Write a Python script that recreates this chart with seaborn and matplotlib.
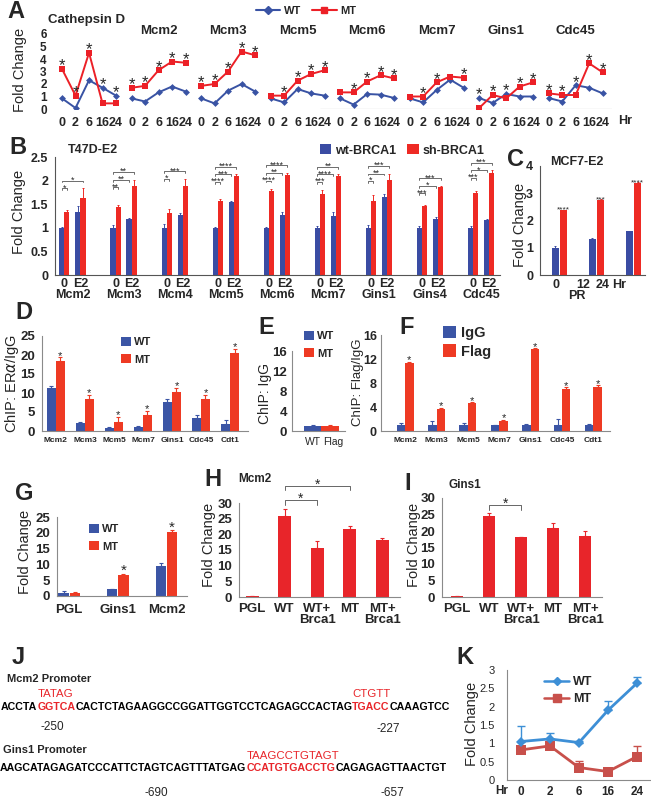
import numpy as np
import pandas as pd
import matplotlib
matplotlib.use('Agg')
import matplotlib.pyplot as plt
import matplotlib.transforms as mtransforms
from matplotlib.colors import to_rgba
from matplotlib.lines import Line2D
from matplotlib.patches import Patch
import seaborn as sns

# ---------------- data ----------------
# A: time course, fold change, WT vs MT
hours = ['0', '2', '6', '16', '24']
a_genes = ['Cathepsin D', 'Mcm2', 'Mcm3', 'Mcm5', 'Mcm6', 'Mcm7', 'Gins1', 'Cdc45']
a_wt = [[0.85, 0.08, 2.3, 1.7, 1.07], [0.85, 0.6, 1.33, 1.8, 1.4], [0.85, 0.45, 1.47, 2.0, 1.4],
        [0.85, 0.53, 1.6, 1.25, 1.07], [0.85, 0.35, 1.2, 1.15, 0.88], [0.85, 0.53, 1.52, 2.35, 1.7],
        [0.88, 0.48, 1.2, 1.0, 1.0], [0.88, 0.6, 1.9, 1.7, 1.25]]
a_mt = [[3.2, 1.07, 4.5, 0.45, 0.45], [1.7, 1.85, 3.1, 3.8, 3.7], [1.85, 2.0, 3.0, 4.6, 4.3],
        [1.07, 1.07, 2.27, 2.8, 3.1], [1.33, 1.33, 2.2, 2.7, 2.45], [1.0, 1.0, 2.13, 2.6, 2.5],
        [0.08, 1.12, 0.85, 1.8, 2.13], [1.25, 1.12, 1.12, 3.65, 2.93]]
a_star = [[1, 1, 1, 1, 1], [1, 1, 1, 1, 1], [1, 1, 1, 1, 1], [0, 1, 1, 1, 1],
          [0, 1, 1, 1, 1], [0, 1, 1, 0, 1], [1, 1, 1, 1, 1], [1, 1, 1, 1, 1]]

# B: T47D-E2
b_genes = ['Mcm2', 'Mcm3', 'Mcm4', 'Mcm5', 'Mcm6', 'Mcm7', 'Gins1', 'Gins4', 'Cdc45']
b_conds = ['0', 'E2']
b_wt = [[1.0, 1.34], [1.0, 1.18], [1.0, 1.28], [1.0, 1.54], [1.0, 1.27], [1.0, 1.26], [1.0, 1.66], [1.0, 1.18], [1.0, 1.17]]
b_sh = [[1.33, 1.64], [1.45, 1.88], [1.32, 1.89], [1.57, 2.1], [1.79, 2.12], [1.71, 2.09], [1.57, 2.02], [1.47, 1.86], [1.74, 2.16]]
b_wt_err = [[0.02, 0.13], [0.05, 0.02], [0.08, 0.03], [0.02, 0.03], [0.02, 0.06], [0.03, 0.08], [0.05, 0.05], [0.03, 0.04], [0.04, 0.01]]
b_sh_err = [[0.04, 0.2], [0.03, 0.14], [0.08, 0.15], [0.03, 0.03], [0.04, 0.04], [0.1, 0.04], [0.12, 0.13], [0.02, 0.03], [0.03, 0.06]]
b_sig = [('*', None, '*'), ('**', '**', '**'), ('*', None, '***'), ('****', '***', '****'), ('****', '**', '****'),
         ('***', '****', '**'), ('*', '**', '***'), ('***', '*', '***'), ('***', '*', '***')]

# C: MCF7-E2
c_hours = ['0', '12', '24']
c_wt = [1.0, 1.33, 1.6]
c_sh = [2.38, 2.75, 3.38]
c_wt_err = [0.06, 0.02, 0.02]
c_sh_err = [0.02, 0.03, 0.02]
c_sig = ['****', '***', '****']

# D, F: ChIP
chip_genes = ['Mcm2', 'Mcm3', 'Mcm5', 'Mcm7', 'Gins1', 'Cdc45', 'Cdt1']
d_wt = [11.4, 2.1, 0.9, 1.0, 7.7, 3.5, 1.8]
d_mt = [18.3, 8.4, 2.5, 4.1, 10.3, 8.4, 20.6]
d_wt_err = [0.5, 0.4, 0.1, 0.2, 0.8, 0.6, 1.0]
d_mt_err = [1.1, 1.2, 1.2, 1.2, 1.0, 1.2, 1.0]
e_cats = ['WT', 'Flag']
e_vals = [0.95, 1.1]
e_err = [0.3, 0.1]
f_igg = [1.0, 1.0, 1.0, 1.0, 1.0, 1.0, 1.0]
f_flag = [11.3, 3.75, 4.7, 1.75, 13.6, 7.0, 7.3]
f_igg_err = [0.3, 0.7, 0.4, 0.05, 0.1, 1.0, 0.1]
f_flag_err = [0.2, 0.1, 0.1, 0.1, 0.2, 0.3, 0.3]

# G, H, I: reporter assays
g_cats = ['PGL', 'Gins1', 'Mcm2']
g_wt = [1.0, 2.1, 9.6]
g_mt = [1.0, 6.8, 20.1]
g_wt_err = [0.5, 0.2, 0.7]
g_mt_err = [0.4, 0.3, 0.8]
g_star = [0, 1, 1]
hi_cats = ['PGL', 'WT', 'WT+\nBrca1', 'MT', 'MT+\nBrca1']
h_vals = [0.3, 26.0, 15.6, 21.75, 18.05]
h_err = [0.1, 2.1, 2.4, 0.85, 0.75]
i_vals = [0.3, 24.4, 18.05, 20.9, 18.5]
i_err = [0.1, 1.1, 0.2, 1.4, 1.5]

# J: promoter sequences
mcm2_seq = ['ACCTA', 'GGTCA', 'CACTCTAGAAGGCCGGATTGGTCCTCAGAGCCACTAG', 'TGACC', 'CAAAGTCC']
mcm2_site = ['TATAG', 'CTGTT']
gins1_seq = ['AAGCATAGAGATCCCATTCTAGTCAGTTTATGAG', 'CCATGTGACCTG', 'CAGAGAGTTAACTGT']
gins1_site = ['TAAGCCTGTAGT']

# K
k_hours = ['0', '2', '6', '16', '24']
k_wt = [1.05, 1.12, 1.02, 1.9, 2.64]
k_mt = [0.82, 0.93, 0.34, 0.23, 0.64]
k_wt_err = [0.43, 0.17, 0.04, 0.25, 0.16]
k_mt_err = [0.0, 0.0, 0.19, 0.0, 0.28]

# ---------------- figure helpers ----------------
W, H = 651, 798
sns.set_style('white')
plt.rcParams['font.family'] = ['Liberation Sans', 'DejaVu Sans']
fig = plt.figure(figsize=(W / 100, H / 100), dpi=100)
rend = fig.canvas.get_renderer()

blue_a, red_a = '#3953a4', '#ec2027'
blue_b, red_b = '#3a4ca3', '#ee2a24'
blue_d, red_d = '#3b55a5', '#ee3a23'
red_h = '#e8252a'
blue_k, red_k = '#3d8fd6', '#c8504b'
axis_gray = '#8a8a8a'


def px_ax(left, top, right, bottom):
    return fig.add_axes([left / W, 1 - bottom / H, (right - left) / W, (bottom - top) / H])


def ftext(x, y, s, **kw):
    kw.setdefault('ha', 'center')
    kw.setdefault('va', 'center')
    return fig.text(x / W, 1 - y / H, s, **kw)


def letter(x, y, s):
    ftext(x, y, s, fontsize=17, fontweight='bold')


def ylab(x, y, s, size=10.5):
    ftext(x, y, s, rotation=90, fontsize=size)


def base_style(ax, ylim, yticks, ysize=9, yweight='bold', ypad=3, color=axis_gray):
    ax.set_ylim(*ylim)
    ax.set_yticks(yticks)
    ax.set_yticklabels([f'{t:g}' for t in yticks], fontsize=ysize, fontweight=yweight)
    ax.set_xlabel('')
    ax.set_ylabel('')
    sns.despine(ax=ax)
    for sp in ('left', 'bottom'):
        ax.spines[sp].set_color(color)
        ax.spines[sp].set_linewidth(0.8)
    ax.tick_params(axis='y', length=2, width=0.7, color=color, pad=ypad)
    ax.tick_params(axis='x', length=0)


def err_bars(ax, errs, color, lw=0.8, cap=1.5):
    target = to_rgba(color)
    bars = [p for p in ax.patches if np.allclose(p.get_facecolor(), target, atol=0.02)]
    bars.sort(key=lambda p: p.get_x())
    xs = [p.get_x() + p.get_width() / 2 for p in bars]
    ys = [p.get_height() for p in bars]
    ax.errorbar(xs, ys, yerr=[np.zeros(len(xs)), errs], fmt='none', ecolor=color,
                elinewidth=lw, capsize=cap, capthick=lw, clip_on=False)
    return xs, ys


def star(ax, x, y, s='*', fs=8, dy=-1):
    ax.annotate(s, (x, y), xytext=(0, dy), textcoords='offset points', ha='center',
                va='baseline', fontsize=fs, annotation_clip=False)


def bracket(ax, x1, x2, y, label, drop, fs=6, lw=0.6, color='#555555', dy=-1.5):
    ax.plot([x1, x1, x2, x2], [y - drop, y, y, y - drop], color=color, lw=lw, clip_on=False)
    star(ax, (x1 + x2) / 2, y, label, fs=fs, dy=dy)


def square_legend(ax, labels, colors, x, y, fs=8, ncol=1, **kw):
    handles = [Patch(facecolor=c, edgecolor='none') for c in colors]
    ax.legend(handles, labels, loc='upper left', bbox_to_anchor=(x / W, 1 - y / H),
              bbox_transform=fig.transFigure, frameon=False, ncol=ncol,
              prop={'size': fs, 'weight': 'bold'}, handlelength=0.9, handleheight=0.9,
              handletextpad=0.3, borderpad=0, borderaxespad=0, **kw)


# ---------------- A ----------------
axA = px_ax(55, 34, 612, 109)
rows = []
for gi, g in enumerate(a_genes):
    for i, h in enumerate(hours):
        for s, vals in (('WT', a_wt), ('MT', a_mt)):
            rows.append(dict(gene=g, x=gi * 5.15 + i, hr=h, series=s, value=vals[gi][i]))
dfa = pd.DataFrame(rows)
for s, col, mk, ms in (('WT', blue_a, 'D', 3.5), ('MT', red_a, 's', 4.5)):
    sns.lineplot(data=dfa[dfa.series == s], x='x', y='value', units='gene', estimator=None,
                 color=col, marker=mk, markersize=ms, markeredgewidth=0, lw=1.4, ax=axA, legend=False)
axA.set_xlim(-0.52, 40.74)
axA.set_ylim(0, 6)
axA.set_xlabel('')
axA.set_ylabel('')
for sp in axA.spines.values():
    sp.set_visible(False)
axA.axhline(0, xmin=0.476, xmax=1, color=axis_gray, lw=0.8)
xa = dfa[dfa.series == 'WT'].x.values
axA.set_xticks(xa)
axA.set_xticklabels(hours * len(a_genes), fontsize=9, fontweight='bold')
axA.set_yticks(range(7))
axA.set_yticklabels([str(v) for v in range(7)], fontsize=8.5, fontweight='bold')
axA.tick_params(length=0)
axA.tick_params(axis='x', pad=6)
axA.tick_params(axis='y', pad=6)
for gi, g in enumerate(a_genes):
    for i in range(5):
        if a_star[gi][i]:
            star(axA, gi * 5.15 + i, max(a_wt[gi][i], a_mt[gi][i]), fs=12, dy=-1)
    cx = axA.transData.transform((gi * 5.15 + 2, 0))[0]
    if gi == 0:
        ftext(48, 20, g, ha='left', fontsize=9.5, fontweight='bold')
    else:
        ftext(cx, 31, g, fontsize=9.5, fontweight='bold')
ftext(625, 121, 'Hr', fontsize=9, fontweight='bold')
axA.legend([Line2D([], [], color=blue_a, marker='D', ms=4, lw=1.5),
            Line2D([], [], color=red_a, marker='s', ms=5, lw=1.5)], ['WT', 'MT'],
           loc='center', bbox_to_anchor=(306 / W, 1 - 11 / H), bbox_transform=fig.transFigure,
           frameon=False, ncol=2, prop={'size': 8, 'weight': 'bold'}, handlelength=2.2,
           handletextpad=0.3, columnspacing=1.0)
letter(16, 11, 'A')
ylab(20, 70, 'Fold Change')

# ---------------- B ----------------
axB = px_ax(55, 157, 500, 275)
rows = []
for gi, g in enumerate(b_genes):
    for ci, c in enumerate(b_conds):
        pos = gi * 3.19 + ci
        rows.append(dict(pos=pos, series='wt-BRCA1', value=b_wt[gi][ci]))
        rows.append(dict(pos=pos, series='sh-BRCA1', value=b_sh[gi][ci]))
dfb = pd.DataFrame(rows)
sns.barplot(data=dfb, x='pos', y='value', hue='series', hue_order=['wt-BRCA1', 'sh-BRCA1'],
            native_scale=True, width=0.63, palette=[blue_b, red_b], saturation=1,
            errorbar=None, legend=False, linewidth=0, ax=axB)
base_style(axB, (0, 2.5), [0, 0.5, 1, 1.5, 2, 2.5], color='#555555')
axB.set_xlim(-0.59, 27.2)
wx, _ = err_bars(axB, [e for r in b_wt_err for e in r], blue_b, lw=0.7, cap=1)
sx, _ = err_bars(axB, [e for r in b_sh_err for e in r], red_b, lw=0.7, cap=1)
bpos = sorted(dfb.pos.unique())
axB.set_xticks(bpos)
axB.set_xticklabels(b_conds * len(b_genes), fontsize=9, fontweight='bold')
axB.tick_params(axis='x', pad=2)
tB = mtransforms.blended_transform_factory(axB.transData, fig.transFigure)
for gi, g in enumerate(b_genes):
    axB.text(gi * 3.19 + 0.5, 1 - 295 / H, g, transform=tB, ha='center', va='center',
             fontsize=9, fontweight='bold')
    top = max(b_wt[gi][0] + b_wt_err[gi][0], b_sh[gi][0] + b_sh_err[gi][0],
              b_wt[gi][1] + b_wt_err[gi][1], b_sh[gi][1] + b_sh_err[gi][1])
    short, mid, long_ = b_sig[gi]
    y_long = top + 0.16
    x0 = wx[2 * gi]
    bracket(axB, x0, sx[2 * gi + 1], y_long, long_, 0.04, fs=6.5)
    y = y_long
    if mid:
        y -= 0.16
        bracket(axB, x0, wx[2 * gi + 1], y, mid, 0.04, fs=6.5)
    bracket(axB, x0, sx[2 * gi], y - 0.16, short, 0.04, fs=6.5)
square_legend(axB, ['wt-BRCA1', 'sh-BRCA1'], [blue_b, red_b], 320, 144, fs=9, ncol=2, columnspacing=0.9)
ftext(68, 150, 'T47D-E2', ha='left', fontsize=9, fontweight='bold')
letter(18, 148, 'B')
ylab(19, 212, 'Fold Change')

# ---------------- C ----------------
axC = px_ax(540, 166, 645, 275)
dfc = pd.DataFrame({'hr': c_hours * 2, 'series': ['wt'] * 3 + ['sh'] * 3, 'value': c_wt + c_sh})
sns.barplot(data=dfc, x='hr', y='value', hue='series', hue_order=['wt', 'sh'], order=c_hours,
            width=0.45, gap=0.1, palette=[blue_b, red_b], saturation=1, errorbar=None,
            legend=False, linewidth=0, ax=axC)
base_style(axC, (0, 4), [0, 1, 2, 3, 4], color='#555555')
axC.set_xlim(-0.53, 2.31)
axC.set_xticks([])
err_bars(axC, c_wt_err, blue_b, lw=0.7, cap=1)
cx, cy = err_bars(axC, c_sh_err, red_b, lw=0.7, cap=1)
for x, y, e, s in zip(cx, cy, c_sh_err, c_sig):
    star(axC, x, y + e, s, fs=6, dy=-1.5)
for x, s in zip([556, 583, 603, 619], ['0', '12', '24', 'Hr']):
    ftext(x, 285, s, fontsize=9, fontweight='bold')
ftext(577, 296, 'PR', fontsize=9, fontweight='bold')
ftext(577, 162, 'MCF7-E2', fontsize=9, fontweight='bold')
letter(515, 160, 'C')
ylab(520, 225, 'Fold Change')

# ---------------- D ----------------
axD = px_ax(42, 336, 248, 431)
dfd = pd.DataFrame({'gene': chip_genes * 2, 'series': ['WT'] * 7 + ['MT'] * 7, 'value': d_wt + d_mt})
sns.barplot(data=dfd, x='gene', y='value', hue='series', order=chip_genes, hue_order=['WT', 'MT'],
            width=0.62, palette=[blue_d, red_d], saturation=1, errorbar=None, legend=False,
            linewidth=0, ax=axD)
base_style(axD, (0, 25), [0, 5, 10, 15, 20, 25], ysize=9.5)
axD.set_xlim(-0.48, 6.62)
axD.set_xticks(range(7))
axD.set_xticklabels(chip_genes, fontsize=6, fontweight='bold')
axD.tick_params(axis='x', pad=4)
err_bars(axD, d_wt_err, blue_d)
dx, dy_ = err_bars(axD, d_mt_err, red_d)
for x, y, e in zip(dx, dy_, d_mt_err):
    star(axD, x, y + e)
square_legend(axD, ['WT', 'MT'], [blue_d, red_d], 121, 337, fs=8, labelspacing=0.6)
letter(24, 313, 'D')
ylab(12, 383, r'ChIP: ER$\alpha$/IgG')

# ---------------- E ----------------
axE = px_ax(292, 351, 345, 431)
dfe = pd.DataFrame({'cat': e_cats, 'series': ['WT', 'MT'], 'value': e_vals})
sns.barplot(data=dfe, x='cat', y='value', hue='series', hue_order=['WT', 'MT'], dodge=False,
            width=1.0, palette=[blue_d, red_d], saturation=1, errorbar=None, legend=False,
            linewidth=0, ax=axE)
base_style(axE, (0, 16), [0, 4, 8, 12, 16], ysize=9.5, ypad=1.5)
axE.set_xlim(-1.23, 1.88)
axE.set_xticks([0, 1.2])
axE.set_xticklabels(e_cats, fontsize=7.5)
axE.tick_params(axis='x', pad=4)
err_bars(axE, e_err[:1], blue_d)
err_bars(axE, e_err[1:], red_d)
square_legend(axE, ['WT', 'MT'], [blue_d, red_d], 304, 331, fs=8, labelspacing=0.6)
letter(266, 328, 'E')
ylab(265, 394, 'ChIP: IgG', size=10)

# ---------------- F ----------------
axF = px_ax(381, 335, 610, 431)
dff = pd.DataFrame({'gene': chip_genes * 2, 'series': ['IgG'] * 7 + ['Flag'] * 7, 'value': f_igg + f_flag})
sns.barplot(data=dff, x='gene', y='value', hue='series', order=chip_genes, hue_order=['IgG', 'Flag'],
            width=0.54, palette=[blue_d, red_d], saturation=1, errorbar=None, legend=False,
            linewidth=0, ax=axF)
base_style(axF, (0, 16), [0, 4, 8, 12, 16], ysize=9, ypad=1)
axF.set_xlim(-0.77, 6.53)
axF.set_xticks(range(7))
axF.set_xticklabels(chip_genes, fontsize=6, fontweight='bold')
axF.tick_params(axis='x', pad=4)
err_bars(axF, f_igg_err, blue_d)
fx, fy = err_bars(axF, f_flag_err, red_d)
for x, y, e in zip(fx, fy, f_flag_err):
    star(axF, x, y + e)
square_legend(axF, ['IgG', 'Flag'], [blue_d, red_d], 443, 326, fs=10.5, labelspacing=0.3)
letter(407, 328, 'F')
ylab(358, 382, 'ChIP: Flag/IgG', size=9.5)

# ---------------- G ----------------
axG = px_ax(57, 517, 187, 596)
dfg = pd.DataFrame({'cat': g_cats * 2, 'series': ['WT'] * 3 + ['MT'] * 3, 'value': g_wt + g_mt})
sns.barplot(data=dfg, x='cat', y='value', hue='series', order=g_cats, hue_order=['WT', 'MT'],
            width=0.46, gap=0.08, palette=[blue_d, red_d], saturation=1, errorbar=None,
            legend=False, linewidth=0, ax=axG)
base_style(axG, (0, 25), [0, 5, 10, 15, 20, 25], ysize=9.5)
axG.set_xlim(-0.25, 2.42)
axG.set_xticks(range(3))
axG.set_xticklabels(g_cats, fontsize=9.5, fontweight='bold')
axG.tick_params(axis='x', pad=6)
err_bars(axG, g_wt_err, blue_d)
gx, gy = err_bars(axG, g_mt_err, red_d)
for x, y, e, s in zip(gx, gy, g_mt_err, g_star):
    if s:
        star(axG, x, y + e, fs=11)
square_legend(axG, ['WT', 'MT'], [blue_d, red_d], 89, 524, fs=8, labelspacing=0.6)
letter(24, 493, 'G')
ylab(25, 552, 'Fold Change')

# ---------------- H, I ----------------
for box, vals, errs, xlim, title, tpos, lpos, lab, brk in (
        ((239, 503, 400, 597), h_vals, h_err, (-0.4, 4.55), 'Mcm2', (238, 479), (213, 479),
         'H', [(1, 2, 30.8), (1, 3, 35.5)]),
        ((442, 498, 602, 597), i_vals, i_err, (-0.47, 4.53), 'Gins1', (448, 485), (408, 483),
         'I', [(1, 2, 27.8)])):
    ax = px_ax(*box)
    dfh = pd.DataFrame({'cat': hi_cats, 'value': vals})
    sns.barplot(data=dfh, x='cat', y='value', order=hi_cats, color=red_h, width=0.4,
                saturation=1, errorbar=None, linewidth=0, ax=ax)
    base_style(ax, (0, 30), [0, 5, 10, 15, 20, 25, 30], ysize=9.5)
    ax.set_xlim(*xlim)
    ax.set_xticks(range(5))
    ax.set_xticklabels(hi_cats, fontsize=9.5, fontweight='bold', linespacing=0.95, va='top')
    ax.tick_params(axis='x', pad=4)
    hx, hy = err_bars(ax, errs, red_h)
    for a, b, y in brk:
        bracket(ax, hx[a], hx[b], y, '*', 1.4, fs=10, lw=0.7, color='#666666', dy=-2)
    ftext(tpos[0], tpos[1], title, ha='left', fontsize=8.5, fontweight='bold')
    letter(lpos[0], lpos[1], lab)
    ylab(box[0] - 30 if lab == 'H' else 414, 545, 'Fold Change')

# ---------------- J ----------------
ref = fig.text(0, 0, ''.join(mcm2_seq), fontsize=10, fontweight='bold')
seq_fs = 10 * 453 / ref.get_window_extent(renderer=rend).width
ref.remove()


def seq_line(x0, y, parts):
    x = x0
    starts = []
    for k, s in enumerate(parts):
        t = ftext(x, y, s, ha='left', color=red_h if k % 2 else 'black', fontsize=seq_fs, fontweight='bold')
        starts.append(x)
        x += t.get_window_extent(renderer=rend).width
    return starts


letter(18, 658, 'J')
ftext(7, 679, 'Mcm2 Promoter', ha='left', fontsize=8, fontweight='bold')
st = seq_line(1, 707, mcm2_seq)
for s, x in zip(mcm2_site, (st[1], st[3])):
    ftext(x, 694, s, ha='left', color=red_h, fontsize=8.2)
ftext(52, 727, '-250', fontsize=8.5)
ftext(388, 729, '-227', fontsize=8.5)
ftext(3, 750, 'Gins1 Promoter', ha='left', fontsize=8, fontweight='bold')
st = seq_line(0, 768, gins1_seq)
ftext(st[1], 756, gins1_site[0], ha='left', color=red_h, fontsize=8.2)
ftext(156, 793, '-690', fontsize=8.5)
ftext(392, 793, '-657', fontsize=8.5)

# ---------------- K ----------------
axK = px_ax(507, 670, 650, 780)
dfk = pd.DataFrame({'i': list(range(5)) * 2, 'series': ['WT'] * 5 + ['MT'] * 5, 'value': k_wt + k_mt})
for s, col, mk, ms, errs in (('MT', red_k, 's', 7, k_mt_err), ('WT', blue_k, 'D', 5, k_wt_err)):
    sub = dfk[dfk.series == s]
    axK.errorbar(sub.i, sub.value, yerr=[np.zeros(5), errs], fmt='none', ecolor=col,
                 elinewidth=1, capsize=3, capthick=1)
    sns.lineplot(data=sub, x='i', y='value', color=col, marker=mk, markersize=ms,
                 markeredgewidth=0, lw=2, ax=axK, legend=False)
base_style(axK, (0, 3), [0, 0.5, 1, 1.5, 2, 2.5, 3], ysize=8, yweight='normal', ypad=7)
axK.set_xlim(-0.48, 4.45)
axK.set_xticks(range(5))
axK.set_xticklabels(k_hours, fontsize=8.5, fontweight='bold')
axK.tick_params(axis='x', pad=4)
ftext(502, 791, 'Hr', fontsize=8.5, fontweight='bold')
axK.legend([Line2D([], [], color=blue_k, marker='D', ms=4, lw=1.8),
            Line2D([], [], color=red_k, marker='s', ms=6, lw=1.8)], ['WT', 'MT'],
           loc='upper left', bbox_to_anchor=(538 / W, 1 - 670 / H), bbox_transform=fig.transFigure,
           frameon=False, prop={'size': 9, 'weight': 'bold'}, handlelength=2.0,
           handletextpad=0.3, borderpad=0, labelspacing=0.4)
letter(465, 658, 'K')
ylab(472, 724, 'Fold Change', size=10.5)

fig.savefig('out.png', dpi=100)
